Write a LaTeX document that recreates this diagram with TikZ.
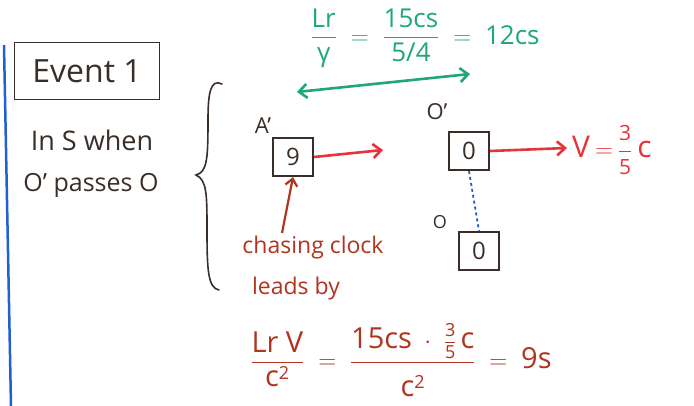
\documentclass[tikz,border=0pt]{standalone}
\usepackage{amsmath}
\usepackage{fontspec}
\setmainfont{Open Sans}
\usetikzlibrary{arrows.meta}
\definecolor{ink}{HTML}{3A2E28}
\definecolor{grn}{HTML}{1FA77A}
\definecolor{rd}{HTML}{E8323C}
\definecolor{brn}{HTML}{B0341E}
\definecolor{blu}{HTML}{2060D0}
\newcommand{\smallnum}[1]{\mbox{\fontsize{18}{18}\selectfont #1}}
\begin{document}
\begin{tikzpicture}[x=1pt,y=-1pt,
  hand/.style={inner sep=0pt, text=ink},
  clk/.style={draw=ink, line width=2.2pt, minimum width=40pt, minimum height=38pt, inner sep=0pt, text=ink, font=\fontsize{24}{24}\selectfont},
  redarrow/.style={rd, line width=2.6pt, -{Straight Barb[length=8pt,width=14pt]}},
  grnarrow/.style={grn, line width=2.6pt, {Straight Barb[length=8pt,width=14pt]}-{Straight Barb[length=8pt,width=14pt]}},
  brnarrow/.style={brn, line width=2.2pt, -{Straight Barb[length=7pt,width=12pt]}}
]
\useasboundingbox (0,0) rectangle (694,406);
\fill[white] (0,0) rectangle (694,406);
% left blue margin line
\draw[blu, line width=2.5pt] (4,45) -- (11,406);
% Event 1 box and caption
\node[hand, draw=ink, line width=1.8pt, minimum width=145pt, minimum height=57pt, font=\fontsize{32}{32}\selectfont] (ev) at (87,71) {Event 1};
\node[hand, font=\fontsize{27}{27}\selectfont] (ins) at (92,140) {In S when};
\node[hand, font=\fontsize{25}{25}\selectfont] (pass) at (91,185) {O’ passes O};
% brace
\draw[ink, line width=1.6pt, line cap=round] (222,84) .. controls (210,78) and (208,95) .. (208,120) .. controls (208,160) and (207,172) .. (196,175) .. controls (207,180) and (207,195) .. (207,230) .. controls (207,270) and (208,288) .. (219,290);
% green length
\node[hand, text=grn, font=\fontsize{26}{30}\selectfont] (len) at (425,38) {$\displaystyle\frac{\mbox{Lr}}{\mbox{γ}} \;=\; \frac{\mbox{15cs}}{\mbox{5/4}} \;=\; \mbox{12cs}$};
\coordinate (gl) at (297,92);
\coordinate (gr) at (470,74);
\draw[grnarrow] (gl) -- (gr);
% clocks
\node[clk] (a) at (293,157) {9};
\node[clk] (op) at (469,151) {0};
\node[clk] (o) at (479,251) {0};
\node[hand, font=\fontsize{22}{22}\selectfont] (al) at (263,126) {A’};
\node[hand, font=\fontsize{22}{22}\selectfont] (opl) at (437,112) {O’};
\node[hand, font=\fontsize{18}{18}\selectfont] (ol) at (440,222) {O};
% red arrows
\coordinate (ah) at (383,150);
\draw[redarrow] (a.east) -- (ah);
\coordinate (vh) at (567,148);
\draw[redarrow] (op.east) -- (vh);
\node[hand, text=rd, font=\fontsize{30}{30}\selectfont, anchor=west] (v) at (572,150) {V\,$=$\,$\displaystyle\frac{\mbox{\fontsize{21}{21}\selectfont 3}}{\mbox{\fontsize{21}{21}\selectfont 5}}$\,c};
% dotted blue
\draw[blu, line width=1.8pt, dash pattern=on 3pt off 3pt] (op.south) -- (o.north);
% chasing clock
\coordinate (bt) at (282,233);
\draw[brnarrow] (bt) -- (a.south);
\node[hand, text=brn, font=\fontsize{23}{23}\selectfont] (ch) at (313,248) {chasing clock};
\node[hand, text=brn, font=\fontsize{23}{23}\selectfont] (lb) at (296,289) {leads by};
% bottom formula
\node[hand, text=brn, font=\fontsize{29}{32}\selectfont] (eq) at (401,360) {$\displaystyle\frac{\mbox{Lr V}}{\mbox{c}^{\smallnum{2}}} \;=\; \frac{\mbox{15cs}\;\cdot\;\frac{\raisebox{2pt}{\smallnum{3}}}{\raisebox{-2pt}{\smallnum{5}}}\,\mbox{c}}{\rule{0pt}{30pt}\mbox{c}^{\smallnum{2}}} \;=\; \mbox{9s}$};
\end{tikzpicture}
\end{document}
